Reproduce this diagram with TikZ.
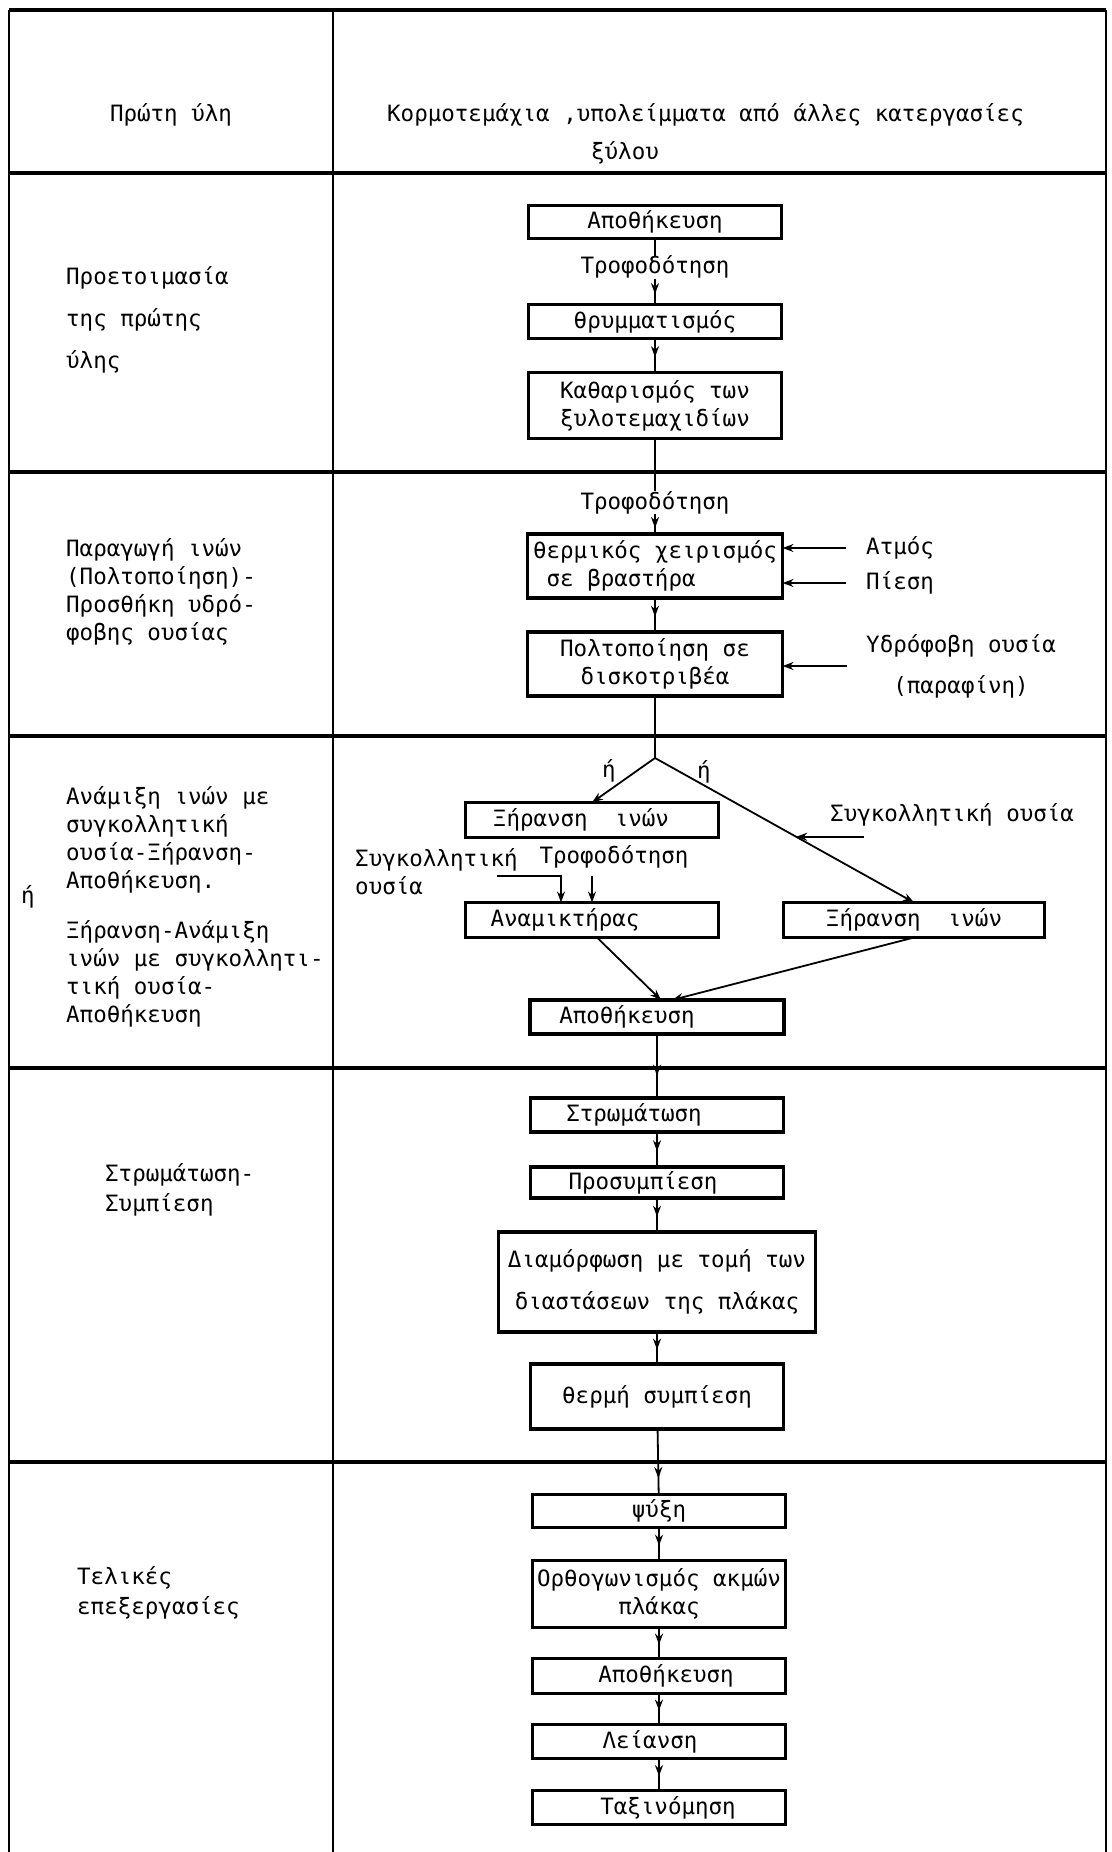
\documentclass[tikz,border=0pt]{standalone}
\usepackage{fontspec}
\newfontfamily\plotter{DejaVu Sans Mono}
\usetikzlibrary{positioning, arrows.meta, calc, decorations.markings}
\tikzset{
>={Stealth[length=11pt, width=8pt]}, % small solid heads
x=1pt, y=-1pt, % coordinates in px, counted downwards
every node/.style={font=\plotter\fontsize{22.5}{28}\selectfont, inner sep=0pt},
box/.style={draw, line width=3.1pt, outer sep=0pt, minimum width=253pt, minimum height=33pt, align=center},
txt/.style={align=left, anchor=north west}, % texts of the left column
tag/.style={anchor=west}, % inputs coming in from the right
rule/.style={line width=4pt},
wall/.style={line width=2.8pt},
link/.style={line width=1.8pt},
feedin/.style={link, ->},
midflow/.style={link, postaction={decorate}, decoration={markings, mark=at position #1 with {\arrow{>}}}},
midflow/.default=0.55,
}

\begin{document}
\begin{tikzpicture}
\useasboundingbox (0,0) rectangle (1111,1852);

% the table
\draw[rule] (9,10) -- (1106,10);
\foreach \y in {173,472,736,1068,1462}
  \draw[rule] (9,\y) -- (1106,\y);
\foreach \x in {9,333,1106}
  \draw[wall] (\x,10) -- (\x,1852);

% heading row
\node (rawhead) at (171,115) {Πρώτη ύλη};
\node[tag] (rawtext) at (387,115) {Κορμοτεμάχια ,υπολείμματα από άλλες κατεργασίες};
\node (rawtext2) at (625,153) {ξύλου};

% left column
\node[txt] (prep) at (66,266) {Προετοιμασία\\[14pt]της πρώτης\\[14pt]ύλης};
\node[txt] (pulp) at (66,538) {Παραγωγή ινών\\(Πολτοποίηση)-\\Προσθήκη υδρό-\\φοβης ουσίας};
\node[txt] (mixA) at (66,786) {Ανάμιξη ινών με\\συγκολλητική\\ουσία-Ξήρανση-\\Αποθήκευση.};
\node[tag] (orword) at (21,897) {ή};
\node[txt] (mixB) at (66,920) {Ξήρανση-Ανάμιξη\\ινών με συγκολλητι-\\τική ουσία-\\Αποθήκευση};
\node[txt] (form) at (105,1163) {Στρωμάτωση-\\[2pt]Συμπίεση};
\node[txt] (finish) at (77,1566) {Τελικές\\[2pt]επεξεργασίες};

% preparation
\node[box] (store1) at (655,222) {Αποθήκευση};
\node[below=17pt of store1] (feed1) {Τροφοδότηση};
\node[box, below=66pt of store1, minimum height=34pt] (crush) {θρυμματισμός};
\node[box, below=34pt of crush, minimum height=66pt] (clean) {Καθαρισμός των\\ξυλοτεμαχιδίων};

% fibres
\node[box, minimum width=255pt, minimum height=64pt, align=left] (cook) at (655,566) {θερμικός χειρισμός\\\ σε βραστήρα};
\node[above=20pt of cook] (feed2) {Τροφοδότηση};
\node[box, below=34pt of cook, minimum width=255pt, minimum height=64pt] (refine) {Πολτοποίηση σε\\δισκοτριβέα};
\node[tag] (steam) at (866,548) {Ατμός};
\node[tag] (press) at (866,583) {Πίεση};
\node[tag, align=center] (wax) at (866,666) {Υδρόφοβη ουσία\\[13pt](παραφίνη)};

% mixing and drying
\coordinate (fork) at (655,758);
\node[box, minimum height=35pt] (dryA) at (592,820) {Ξήρανση\ \ ινών\hspace*{22pt}};
\node[box, below=65pt of dryA, minimum height=35pt] (mixer) {Αναμικτήρας\hspace*{54pt}};
\node[box, right=65pt of mixer, minimum width=261pt, minimum height=35pt] (dryB) {Ξήρανση\ \ ινών};
\node[box, minimum width=254pt, minimum height=34pt] (store2) at (657,1017) {Αποθήκευση\hspace*{60pt}};
\node (orA) at (609,771) {ή};
\node (orB) at (704,772) {ή};
\node[tag] (glueR) at (830,815) {Συγκολλητική ουσία};
\node[txt] (glueL) at (355,848) {Συγκολλητική\\ουσία};
\node (feed3) at (614,857) {Τροφοδότηση};
\coordinate (glueat) at ($(fork)!0.545!(dryB.north)$);
\coordinate (gluebend) at (497,876);

% forming and pressing
\node[box, minimum height=34pt] (layer) at (657,1115) {Στρωμάτωση\hspace*{46pt}};
\node[box, below=35pt of layer, minimum height=31pt] (prepress) {Προσυμπίεση\hspace*{28pt}};
\node[box, below=34pt of prepress, minimum width=317pt, minimum height=100pt] (trim) {Διαμόρφωση με τομή των\\[14pt]διαστάσεων της πλάκας};
\node[box, below=32pt of trim, minimum height=65pt] (hotpress) {θερμή συμπίεση};

% finishing
\node[box, minimum height=33pt] (cool) at (659,1511) {ψύξη};
\node[box, below=33pt of cool, minimum height=67pt] (square) {Ορθογωνισμός ακμών\\πλάκας};
\node[box, below=31pt of square, minimum height=35pt] (store3) {\hspace*{14pt}Αποθήκευση};
\node[box, below=31pt of store3, minimum height=34pt] (sand) {Λείανση\hspace*{18pt}};
\node[box, below=32pt of sand, minimum height=34pt] (sort) {\hspace*{18pt}Ταξινόμηση};

% connectors
\draw[link] (store1) -- (feed1);
\draw[midflow=0.6] (feed1) -- (crush);
\draw[midflow] (crush) -- (clean);
\draw[link] (clean) -- (feed2);
\draw[midflow=0.7] (feed2) -- (cook);
\draw[midflow] (cook) -- (refine);
\draw[feedin] ([xshift=-20pt]steam.west) -- (steam.west -| cook.east);
\draw[feedin] ([xshift=-20pt]press.west) -- (press.west -| cook.east);
\draw[feedin] ([xshift=-19pt]wax.west) -- (wax.west -| refine.east);
\draw[link] (refine) -- (fork);
\draw[feedin] (fork) -- (dryA.north);
\draw[feedin] (fork) -- (dryB.north);
\draw[feedin] ([xshift=68pt]glueat) -- (glueat);
\draw[feedin] (gluebend) -| ([xshift=-31pt]mixer.north);
\draw[feedin] (mixer.north |- gluebend) -- (mixer.north);
\draw[feedin] ([xshift=5pt]mixer.south) -- ([xshift=4pt]store2.north);
\draw[feedin] (dryB.south) -- ([xshift=15pt]store2.north);
\draw[midflow=0.65] (store2) -- (layer);
\draw[midflow] (layer) -- (prepress);
\draw[midflow] (prepress) -- (trim);
\draw[midflow] (trim) -- (hotpress);
\draw[midflow=0.75] (hotpress) -- (cool);
\draw[midflow] (cool) -- (square);
\draw[midflow] (square) -- (store3);
\draw[midflow] (store3) -- (sand);
\draw[midflow] (sand) -- (sort);
\end{tikzpicture}
\end{document}
